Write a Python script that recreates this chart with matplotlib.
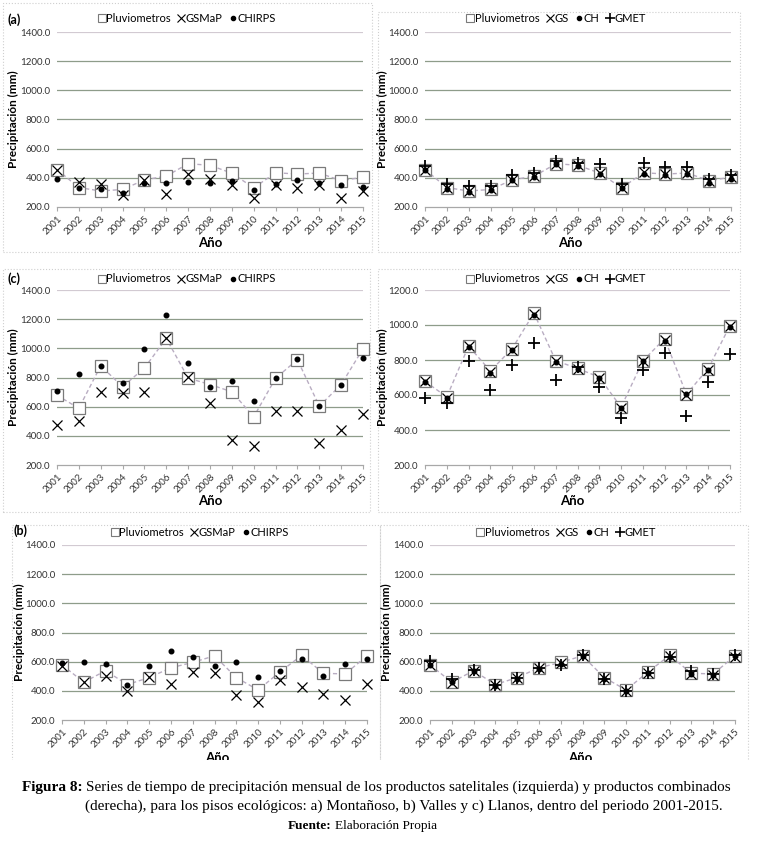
import matplotlib
matplotlib.use('Agg')
import matplotlib.pyplot as plt
from matplotlib.patches import Rectangle
from matplotlib.lines import Line2D

plt.rcParams['font.family'] = ['Lato', 'DejaVu Sans']

years = [str(y) for y in range(2001, 2016)]

# (a) Montañoso
a_pluv = [457, 333, 310, 320, 386, 412, 497, 486, 432, 331, 435, 426, 433, 380, 405]
a_gsmap = [457, 372, 360, 284, 384, 291, 425, 391, 348, 259, 348, 332, 348, 264, 310]
a_chirps = [393, 333, 322, 296, 362, 367, 372, 367, 380, 319, 361, 386, 365, 353, 337]
a_gs = [455, 332, 310, 320, 385, 412, 498, 487, 430, 330, 437, 425, 433, 378, 403]
a_ch = [452, 325, 304, 316, 382, 407, 497, 484, 425, 327, 427, 418, 427, 367, 395]
a_gmet = [484, 358, 345, 345, 420, 430, 512, 505, 492, 358, 505, 472, 472, 392, 420]

# (c) Llanos
c_pluv = [678, 589, 880, 737, 865, 1068, 796, 752, 702, 530, 795, 922, 604, 751, 997]
c_gsmap = [474, 504, 703, 691, 698, 1073, 806, 623, 371, 333, 570, 573, 353, 440, 547]
c_chirps = [707, 822, 881, 760, 995, 1229, 897, 737, 778, 639, 794, 927, 605, 749, 931]
c_gs = [680, 582, 878, 730, 860, 1065, 792, 750, 700, 528, 795, 915, 602, 745, 995]
c_ch = [676, 581, 876, 728, 857, 1057, 790, 749, 697, 524, 794, 910, 604, 743, 987]
c_gmet = [581, 552, 796, 629, 771, 895, 686, 762, 648, 467, 743, 838, 482, 676, 832]

# (b) Valles
b_pluv = [578, 459, 538, 443, 491, 558, 595, 640, 491, 406, 529, 643, 520, 516, 640]
b_gsmap = [569, 459, 499, 400, 494, 447, 529, 525, 369, 322, 471, 424, 376, 334, 447]
b_chirps = [593, 598, 581, 440, 569, 675, 631, 572, 598, 494, 536, 619, 504, 584, 619]
b_gs = [575, 455, 535, 440, 490, 555, 590, 640, 485, 400, 525, 640, 515, 510, 635]
b_ch = [576, 459, 534, 435, 482, 553, 584, 640, 482, 400, 525, 635, 518, 511, 640]
b_gmet = [607, 482, 546, 442, 489, 558, 576, 647, 482, 400, 525, 635, 534, 518, 647]

ticks_1400 = [200, 400, 600, 800, 1000, 1200, 1400]
ticks_1200 = [200, 400, 600, 800, 1000, 1200]

W, H = 768, 844
fig = plt.figure(figsize=(W / 100, H / 100), dpi=100)

GRID = '#8e9c8a'
TOPGRID = '#d2cad2'
LINEC = '#b9adc2'


def fx(x):
    return x / W


def fy(y):
    return 1 - y / H


def make_axes(x0, x1, y0, y1):
    return fig.add_axes([fx(x0), fy(y1), (x1 - x0) / W, (y1 - y0) / H])


def style_axes(ax, yticks):
    ax.set_xlim(0, len(years) - 1)
    ax.set_ylim(yticks[0], yticks[-1])
    ax.set_yticks(yticks)
    ax.set_yticklabels([f'{t:.1f}' for t in yticks], fontsize=7, color='#333333')
    ax.set_xticks(range(len(years)))
    ax.set_xticklabels(years, rotation=45, ha='right', va='top',
                       rotation_mode='anchor', fontsize=7, color='#333333')
    for t in yticks[1:-1]:
        ax.axhline(t, color=GRID, lw=0.9, zorder=0)
    ax.axhline(yticks[-1], color=TOPGRID, lw=1.6, zorder=0)
    for s in ['top', 'right', 'left']:
        ax.spines[s].set_visible(False)
    ax.spines['bottom'].set_color('#a8a8a8')
    ax.spines['bottom'].set_linewidth(0.9)
    ax.tick_params(axis='y', length=0, pad=5)
    ax.tick_params(axis='x', length=3, color='#a8a8a8', pad=2)


def draw_pluv(ax, vals):
    x = range(len(vals))
    ax.plot(x, vals, color=LINEC, lw=1.0, ls=(0, (3, 2)), zorder=2, clip_on=False)
    ax.plot(x, vals, ls='none', marker='s', ms=8, mfc='white', mec='#7a7a7a',
            mew=0.9, zorder=3, clip_on=False)


def draw_x(ax, vals):
    ax.plot(range(len(vals)), vals, ls='none', marker='x', ms=6.5, mec='black',
            mew=0.9, zorder=4, clip_on=False)


def draw_dot(ax, vals):
    ax.plot(range(len(vals)), vals, ls='none', marker='o', ms=3.3, mfc='black',
            mec='black', zorder=5, clip_on=False)


def draw_plus(ax, vals):
    ax.plot(range(len(vals)), vals, ls='none', marker='+', ms=8, mec='black',
            mew=1.3, zorder=6, clip_on=False)


h_sq = Line2D([], [], ls='none', marker='s', ms=6, mfc='white', mec='#7a7a7a', mew=0.8)
h_x = Line2D([], [], ls='none', marker='x', ms=5.5, mec='black', mew=0.8)
h_dot = Line2D([], [], ls='none', marker='o', ms=3, mfc='black', mec='black')
h_plus = Line2D([], [], ls='none', marker='+', ms=7, mec='black', mew=1.2)


def add_legend(handles, labels, cx, cy):
    fig.legend(handles, labels, loc='center', bbox_to_anchor=(fx(cx), fy(cy)),
               ncol=len(labels), frameon=False, fontsize=8, handlelength=0.7,
               handletextpad=0.05, columnspacing=0.6, borderpad=0, borderaxespad=0)


def left_panel(box, pluv, gsmap, chirps, yticks, label, lab_xy, ylab_x, xlab_xy, leg_xy):
    ax = make_axes(*box)
    style_axes(ax, yticks)
    draw_pluv(ax, pluv)
    draw_x(ax, gsmap)
    draw_dot(ax, chirps)
    cy = (box[2] + box[3]) / 2
    fig.text(fx(ylab_x), fy(cy), 'Precipitación (mm)', rotation=90, ha='center',
             va='center', fontsize=8.5, fontweight='bold')
    fig.text(fx(xlab_xy[0]), fy(xlab_xy[1]), 'Año', ha='center', va='center',
             fontsize=9.5, fontweight='bold')
    fig.text(fx(lab_xy[0]), fy(lab_xy[1]), label, ha='left', va='center',
             fontsize=9, fontweight='bold')
    add_legend([h_sq, h_x, h_dot], ['Pluviometros', 'GSMaP', 'CHIRPS'], *leg_xy)
    return ax


def right_panel(box, pluv, gs, ch, gmet, yticks, ylab_x, xlab_xy, leg_xy):
    ax = make_axes(*box)
    style_axes(ax, yticks)
    draw_pluv(ax, pluv)
    draw_x(ax, gs)
    draw_dot(ax, ch)
    draw_plus(ax, gmet)
    cy = (box[2] + box[3]) / 2
    fig.text(fx(ylab_x), fy(cy), 'Precipitación (mm)', rotation=90, ha='center',
             va='center', fontsize=8.5, fontweight='bold')
    fig.text(fx(xlab_xy[0]), fy(xlab_xy[1]), 'Año', ha='center', va='center',
             fontsize=9.5, fontweight='bold')
    add_legend([h_sq, h_x, h_dot, h_plus], ['Pluviometros', 'GS', 'CH', 'GMET'], *leg_xy)
    return ax


# panel borders (dotted)
for (x0, y0, x1, y1) in [(3, 3, 372, 252), (378, 12, 740, 252),
                         (3, 269, 370, 512), (378, 269, 740, 512),
                         (12, 525, 380, 762), (380, 525, 748, 762)]:
    fig.patches.append(Rectangle((fx(x0), fy(y1)), (x1 - x0) / W, (y1 - y0) / H,
                                 transform=fig.transFigure, fill=False,
                                 ec='#cfcfcf', lw=0.8, ls=':', zorder=-5))

left_panel((57, 363, 32, 207), a_pluv, a_gsmap, a_chirps, ticks_1400, '(a)',
           (7, 20), 13, (210, 243), (187, 18))
right_panel((425, 731, 32, 207), a_pluv, a_gs, a_ch, a_gmet, ticks_1400,
            382, (570, 243), (556, 18))

left_panel((57, 363, 290, 465), c_pluv, c_gsmap, c_chirps, ticks_1400, '(c)',
           (7, 279), 13, (210, 501), (187, 279))
right_panel((425, 730, 290, 465), c_pluv, c_gs, c_ch, c_gmet, ticks_1200,
            382, (572, 501), (556, 279))

left_panel((62, 367, 545, 720), b_pluv, b_gsmap, b_chirps, ticks_1400, '(b)',
           (13, 531), 19, (217, 758), (200, 532))
right_panel((430, 735, 545, 720), b_pluv, b_gs, b_ch, b_gmet, ticks_1400,
            386, (580, 758), (566, 532))

# white strip hiding the lower part of the bottom "Año" labels (cropped in the original)
strip = Rectangle((0, fy(775)), 1, (775 - 760) / H, transform=fig.transFigure,
                  fc='white', ec='none', zorder=50)
fig.patches.append(strip)

# caption
serif = ['Liberation Serif', 'DejaVu Serif']
fig.canvas.draw()
r = fig.canvas.get_renderer()
t1 = fig.text(fx(22), fy(787), 'Figura 8:', ha='left', va='center', fontsize=11,
              fontweight='bold', family=serif, zorder=60)
bb = t1.get_window_extent(renderer=r)
fig.text(bb.x1 / W + fx(3), fy(787),
         'Series de tiempo de precipitación mensual de los productos satelitales '
         '(izquierda) y productos combinados', ha='left', va='center', fontsize=10.9,
         family=serif, zorder=60)
fig.text(fx(85), fy(806),
         '(derecha), para los pisos ecológicos: a) Montañoso, b) Valles y c) Llanos, '
         'dentro del periodo 2001-2015.', ha='left', va='center', fontsize=11,
         family=serif, zorder=60)
t3 = fig.text(fx(288), fy(826), 'Fuente:', ha='left', va='center', fontsize=9.5,
              fontweight='bold', family=serif, zorder=60)
bb3 = t3.get_window_extent(renderer=r)
fig.text(bb3.x1 / W + fx(3), fy(826), 'Elaboración Propia', ha='left', va='center',
         fontsize=9.5, family=serif, zorder=60)

fig.savefig('out.png', dpi=100, facecolor='white')
